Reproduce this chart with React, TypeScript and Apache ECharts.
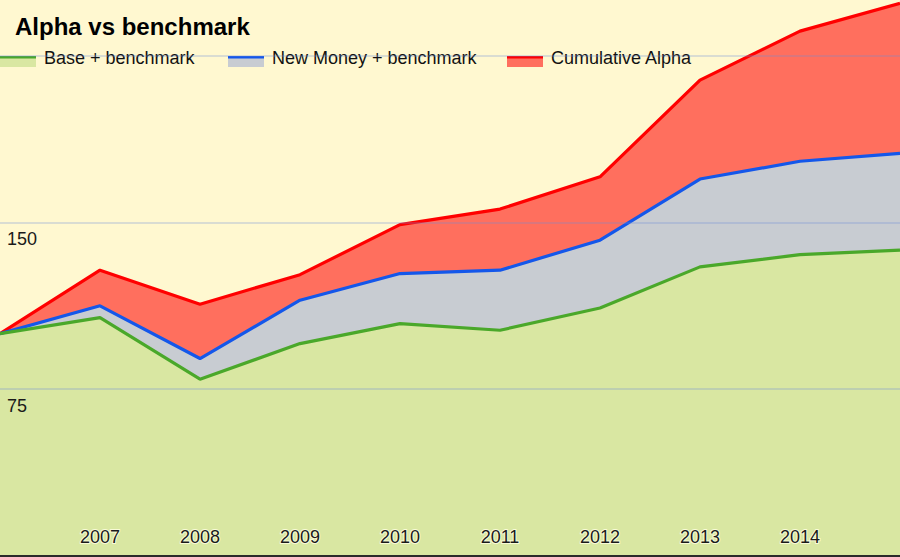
import React, { useEffect, useRef } from "react";
import * as echarts from "echarts";

const years = ["2006", "2007", "2008", "2009", "2010", "2011", "2012", "2013", "2014", "2015"];
const baseBenchmark = [100, 107.2, 79.5, 95.5, 104.5, 101.5, 111.5, 130, 135.5, 137.5];
const newMoneyBenchmark = [100, 112.5, 88.8, 115, 127, 128.5, 142, 169.5, 177.5, 181];
const cumulativeAlpha = [100, 128.5, 113.2, 126.5, 149, 156, 170.5, 214, 236, 248.5];
const yTickLabels = ["75", "150"];

const seriesNames = ["Base + benchmark", "New Money + benchmark", "Cumulative Alpha"];
const lineColors = ["#4aa82a", "#1457ea", "#ff0000"];
const fillColors = ["#d9e7a2", "#c8ccd2", "#ff6f5e"];

export default function App() {
  const ref = useRef<HTMLDivElement>(null);
  useEffect(() => {
    document.body.style.margin = "0";
    const chart = echarts.init(ref.current!, null, { renderer: "svg" });
    const legendX = [0, 228, 507];
    const legendGraphics: any[] = [];
    seriesNames.forEach((name, i) => {
      legendGraphics.push({
        type: "rect",
        left: legendX[i],
        top: 57,
        shape: { width: 36, height: 10 },
        style: { fill: fillColors[i] },
      });
      legendGraphics.push({
        type: "rect",
        left: legendX[i],
        top: 56,
        shape: { width: 36, height: 2.6 },
        style: { fill: lineColors[i] },
      });
      legendGraphics.push({
        type: "text",
        left: legendX[i] + 44,
        top: 49,
        style: {
          text: name,
          font: "18px 'Liberation Sans', Arial, sans-serif",
          fill: "#111",
        },
      });
    });

    const mk = (idx: number, data: number[], z: number) => ({
      name: seriesNames[idx],
      type: "line",
      data,
      symbol: "none",
      z,
      lineStyle: { color: lineColors[idx], width: 3.2 },
      itemStyle: { color: lineColors[idx] },
      areaStyle: { color: fillColors[idx], opacity: 1, origin: "start" },
    });

    chart.setOption({
      animation: false,
      backgroundColor: "#fff8d0",
      title: {
        text: "Alpha vs benchmark",
        left: 10,
        top: 9,
        textStyle: {
          fontFamily: "'Liberation Sans', Arial, sans-serif",
          fontSize: 24,
          fontWeight: "bold",
          color: "#000",
        },
      },
      grid: { left: 0, right: 0, top: 0, bottom: 1, containLabel: false },
      xAxis: {
        type: "category",
        data: years,
        boundaryGap: false,
        z: 4,
        axisLine: { show: true, lineStyle: { color: "#2a2a2a", width: 2 } },
        axisTick: { show: false },
        splitLine: { show: false },
        axisLabel: {
          inside: true,
          margin: 10,
          interval: (i: number) => i > 0 && i < years.length - 1,
          fontFamily: "'Liberation Sans', Arial, sans-serif",
          fontSize: 18,
          color: "#1a1a1a",
          textBorderColor: "rgba(255,255,225,0.85)",
          textBorderWidth: 2,
        },
      },
      yAxis: {
        type: "value",
        min: 0,
        max: 250,
        interval: 75,
        z: 4,
        axisLine: { show: false },
        axisTick: { show: false },
        splitLine: {
          show: true,
          showMaxLine: false,
          showMinLine: false,
          lineStyle: { color: "rgba(110,140,215,0.35)", width: 1.5 },
        },
        axisLabel: {
          inside: true,
          margin: 7,
          verticalAlign: "top",
          padding: [8, 0, 0, 0],
          fontFamily: "'Liberation Sans', Arial, sans-serif",
          fontSize: 18,
          color: "#1a1a1a",
          formatter: (v: number) => (yTickLabels.includes(String(v)) ? String(v) : ""),
        },
      },
      graphic: legendGraphics,
      series: [
        mk(2, cumulativeAlpha, 2),
        mk(1, newMoneyBenchmark, 2),
        mk(0, baseBenchmark, 2),
      ],
    });
    return () => chart.dispose();
  }, []);
  return <div ref={ref} style={{ width: 900, height: 557 }} />;
}
